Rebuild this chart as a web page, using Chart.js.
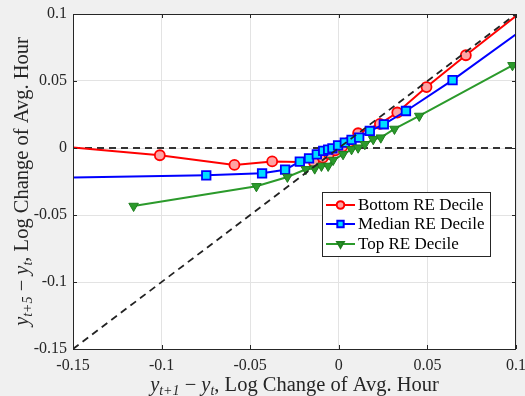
<!DOCTYPE html>
<html>
<head>
<meta charset="utf-8">
<script src="https://cdn.jsdelivr.net/npm/chart.js@4"></script>
<style>
  body { margin: 0; background: #f0f0f0; }
  #wrap { width: 525px; height: 396px; position: relative; }
</style>
</head>
<body>
<div id="wrap"><canvas id="decileChart"></canvas></div>
<script>
// --- Data ---
const seriesNames = ['Bottom RE Decile', 'Median RE Decile', 'Top RE Decile'];

const bottomX = [-0.15, -0.101, -0.0589, -0.0376, -0.014, -0.009, -0.0055, -0.002, 0.002, 0.006, 0.0109, 0.0232, 0.0330, 0.0495, 0.0717, 0.1];
const bottomY = [0.0004, -0.0054, -0.0126, -0.0100, -0.0106, -0.0072, -0.0045, -0.0018, 0.0010, 0.0045, 0.0110, 0.0180, 0.0265, 0.0455, 0.0692, 0.0985];

const medianX = [-0.15, -0.0748, -0.0433, -0.0303, -0.022, -0.0168, -0.0124, -0.0088, -0.006, -0.0036, -0.0004, 0.0034, 0.0072, 0.0115, 0.0175, 0.0254, 0.0379, 0.0642, 0.1];
const medianY = [-0.0221, -0.0204, -0.0189, -0.0162, -0.0102, -0.0077, -0.0047, -0.0022, -0.0012, -0.0002, 0.0020, 0.0040, 0.0060, 0.0077, 0.0127, 0.0177, 0.0276, 0.0507, 0.0848];

const topX = [-0.1158, -0.0465, -0.029, -0.0186, -0.0136, -0.0098, -0.006, -0.0032, 0.0024, 0.0072, 0.0109, 0.0147, 0.0194, 0.0237, 0.0314, 0.0454, 0.098];
const topY = [-0.0433, -0.0286, -0.0216, -0.0159, -0.0154, -0.0134, -0.0134, -0.0090, -0.0047, -0.0010, 0.0002, 0.0028, 0.0065, 0.0077, 0.0142, 0.0239, 0.0617];

// reference lines: zero change and 45-degree line
const zeroLineX = [-0.15, 0.1];
const zeroLineY = [0, 0];
const diagX = [-0.15, 0.1];
const diagY = [-0.15, 0.1];

const axisMin = -0.15;
const axisMax = 0.1;
const tickStep = 0.05;

const FONT = '"Liberation Serif", "DejaVu Serif", serif';

const pts = (xs, ys) => xs.map((x, i) => ({ x, y: ys[i] }));
// no marker where the line runs into the axes box
const edgeRadius = r => c => (c.raw && (c.raw.x <= axisMin || c.raw.x >= axisMax)) ? 0 : r;

// --- Rich text helper (italic y with subscripts) ---
function drawRich(ctx, parts, x, y) {
  let total = 0;
  parts.forEach(p => {
    ctx.font = `${p.italic ? 'italic ' : ''}${p.size}px ${FONT}`;
    p.w = ctx.measureText(p.t).width;
    total += p.w;
  });
  let cx = x - total / 2;
  ctx.textBaseline = 'alphabetic';
  ctx.textAlign = 'left';
  parts.forEach(p => {
    ctx.font = `${p.italic ? 'italic ' : ''}${p.size}px ${FONT}`;
    ctx.fillText(p.t, cx, y + (p.dy || 0));
    cx += p.w;
  });
}

const xTitle = [
  { t: 'y', italic: true, size: 20.5 },
  { t: 't+1', italic: true, size: 14, dy: 4 },
  { t: ' \u2212 ', size: 20.5 },
  { t: 'y', italic: true, size: 20.5 },
  { t: 't', italic: true, size: 14, dy: 4 },
  { t: ', Log Change of Avg. Hour', size: 20.5 }
];
const yTitle = [
  { t: 'y', italic: true, size: 20.5 },
  { t: 't+5', italic: true, size: 14, dy: 4 },
  { t: ' \u2212 ', size: 20.5 },
  { t: 'y', italic: true, size: 20.5 },
  { t: 't', italic: true, size: 14, dy: 4 },
  { t: ', Log Change of Avg. Hour', size: 20.5 }
];

// --- Background, box, inner ticks, titles, legend ---
const matlabLook = {
  id: 'matlabLook',
  beforeDraw(chart) {
    const { ctx, chartArea: a } = chart;
    ctx.save();
    ctx.fillStyle = '#f0f0f0';
    ctx.fillRect(0, 0, chart.width, chart.height);
    ctx.fillStyle = '#ffffff';
    ctx.fillRect(a.left, a.top, a.right - a.left, a.bottom - a.top);
    ctx.restore();
  },
  afterDraw(chart) {
    const { ctx, chartArea: a, scales } = chart;
    ctx.save();
    // axes box
    ctx.strokeStyle = '#262626';
    ctx.lineWidth = 1;
    ctx.strokeRect(a.left + 0.5, a.top + 0.5, a.right - a.left - 1, a.bottom - a.top);
    // inner tick marks
    ctx.beginPath();
    scales.x.ticks.forEach(t => {
      const px = Math.round(scales.x.getPixelForValue(t.value)) + 0.5;
      ctx.moveTo(px, a.bottom); ctx.lineTo(px, a.bottom - 4);
      ctx.moveTo(px, a.top); ctx.lineTo(px, a.top + 4);
    });
    scales.y.ticks.forEach(t => {
      const py = Math.round(scales.y.getPixelForValue(t.value)) + 0.5;
      ctx.moveTo(a.left, py); ctx.lineTo(a.left + 4, py);
      ctx.moveTo(a.right, py); ctx.lineTo(a.right - 4, py);
    });
    ctx.stroke();

    // axis titles
    ctx.fillStyle = '#262626';
    drawRich(ctx, xTitle, (a.left + a.right) / 2, 391);
    ctx.save();
    ctx.translate(28, (a.top + a.bottom) / 2);
    ctx.rotate(-Math.PI / 2);
    drawRich(ctx, yTitle, 0, 0);
    ctx.restore();

    // legend box
    const lx = 322, ly = 192, lw = 168, lh = 64;
    ctx.fillStyle = '#ffffff';
    ctx.fillRect(lx, ly, lw, lh);
    ctx.strokeStyle = '#262626';
    ctx.strokeRect(lx + 0.5, ly + 0.5, lw, lh);
    const rowsY = [205, 224, 244];
    chart.data.datasets.slice(0, 3).forEach((ds, i) => {
      const yy = rowsY[i];
      ctx.strokeStyle = ds.borderColor;
      ctx.lineWidth = 2;
      ctx.beginPath();
      ctx.moveTo(326, yy); ctx.lineTo(355, yy);
      ctx.stroke();
      ctx.fillStyle = ds.pointBackgroundColor;
      ctx.strokeStyle = ds.pointBorderColor;
      Chart.helpers.drawPoint(ctx, {
        pointStyle: ds.pointStyle, radius: ds.pointStyle === 'rect' ? 4.5 : 3.8,
        rotation: ds.pointRotation || 0, borderWidth: 1.5
      }, 340.5, yy);
      ctx.fillStyle = '#000000';
      ctx.font = `17px ${FONT}`;
      ctx.textBaseline = 'middle';
      ctx.textAlign = 'left';
      ctx.fillText(ds.label, 358, yy + 1);
    });
    ctx.restore();
  }
};

const ctx = document.getElementById('decileChart');

const decileChart = new Chart(ctx, {
  type: 'scatter',
  data: {
    datasets: [
      {
        label: seriesNames[0],
        data: pts(bottomX, bottomY),
        showLine: true,
        borderColor: '#ff0000',
        borderWidth: 2,
        pointStyle: 'circle',
        pointRadius: edgeRadius(5),
        pointBackgroundColor: '#ffa3a3',
        pointBorderColor: '#ff0000',
        pointBorderWidth: 1.8,
        order: 3
      },
      {
        label: seriesNames[1],
        data: pts(medianX, medianY),
        showLine: true,
        borderColor: '#0000ff',
        borderWidth: 2,
        pointStyle: 'rect',
        pointRadius: edgeRadius(6),
        pointBackgroundColor: '#00ddff',
        pointBorderColor: '#0000ff',
        pointBorderWidth: 1.8,
        order: 2
      },
      {
        label: seriesNames[2],
        data: pts(topX, topY),
        showLine: true,
        borderColor: '#2b9a2b',
        borderWidth: 2,
        pointStyle: 'triangle',
        pointRotation: 180,
        pointRadius: edgeRadius(5.5),
        pointBackgroundColor: '#2b9a2b',
        pointBorderColor: '#1f7f1f',
        pointBorderWidth: 1,
        order: 1
      },
      {
        label: 'zero',
        data: pts(zeroLineX, zeroLineY),
        showLine: true,
        borderColor: '#333333',
        borderWidth: 1.8,
        borderDash: [7, 5],
        pointRadius: 0,
        order: 4
      },
      {
        label: '45deg',
        data: pts(diagX, diagY),
        showLine: true,
        borderColor: '#222222',
        borderWidth: 1.8,
        borderDash: [7, 5],
        pointRadius: 0,
        order: 0
      }
    ]
  },
  options: {
    responsive: true,
    maintainAspectRatio: false,
    animation: false,
    layout: { padding: { top: 14, right: 9, left: 0, bottom: 0 } },
    plugins: { legend: { display: false }, tooltip: { enabled: false } },
    scales: {
      x: {
        type: 'linear',
        min: axisMin, max: axisMax,
        afterFit: s => { s.height = 47; s.paddingLeft = 0; s.paddingRight = 0; },
        grid: { color: '#e3e3e3', drawTicks: false },
        border: { display: false },
        ticks: {
          stepSize: tickStep,
          color: '#262626',
          padding: 7,
          font: { family: FONT, size: 16 },
          callback: v => String(+v.toFixed(2))
        }
      },
      y: {
        type: 'linear',
        min: axisMin, max: axisMax,
        afterFit: s => { s.width = 73; s.paddingTop = 0; s.paddingBottom = 0; },
        grid: { color: '#e3e3e3', drawTicks: false },
        border: { display: false },
        ticks: {
          stepSize: tickStep,
          color: '#262626',
          padding: 6,
          font: { family: FONT, size: 16 },
          callback: v => String(+v.toFixed(2))
        }
      }
    }
  },
  plugins: [matlabLook]
});
</script>
</body>
</html>
